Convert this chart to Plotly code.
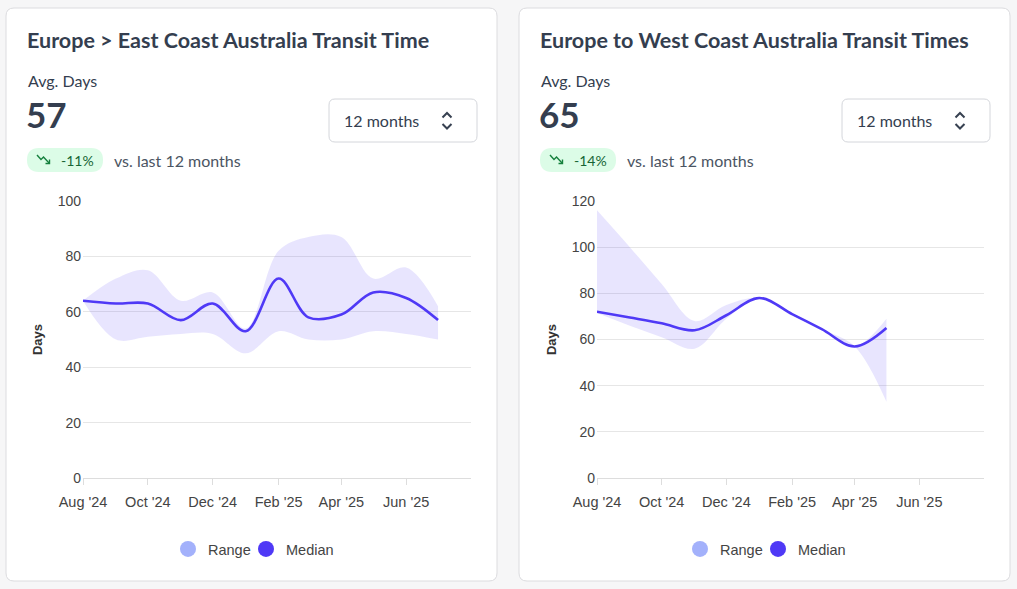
import plotly.graph_objects as go

W, H = 1017, 589

# ---------------- data ----------------
east_months = ["2024-08-01", "2024-09-01", "2024-10-01", "2024-11-01", "2024-12-01", "2025-01-01",
               "2025-02-01", "2025-03-01", "2025-04-01", "2025-05-01", "2025-06-01", "2025-07-01"]
east_median = [64, 63, 63, 57, 63, 53, 72, 58, 59, 67, 65, 57]
east_upper = [64, 72, 75, 64, 67, 54, 82, 87, 87, 72, 76, 62]
east_lower = [64, 50, 51, 52, 52, 45, 53, 50, 50, 53, 52, 50]

west_months = ["2024-08-01", "2024-09-01", "2024-10-01", "2024-11-01", "2024-12-01", "2025-01-01",
               "2025-02-01", "2025-03-01", "2025-04-01", "2025-05-01"]
west_median = [72, 69.5, 67, 64, 70.5, 78, 71, 64.5, 57, 65]
west_upper = [116, 100, 84, 68, 75, 78, 71, 64.5, 57, 69]
west_lower = [71.5, 66, 61, 56, 69, 78, 71, 64.5, 57, 33]

tick_dates = ["2024-08-01", "2024-10-01", "2024-12-01", "2025-02-01", "2025-04-01", "2025-06-01"]
tick_labels = ["Aug '24", "Oct '24", "Dec '24", "Feb '25", "Apr '25", "Jun '25"]

titles = ["Europe > East Coast Australia Transit Time", "Europe to West Coast Australia Transit Times"]
avg_days = ["57", "65"]
changes = ["-11%", "-14%"]
period_label = "12 months"
compare_label = "vs. last 12 months"

# ---------------- styles ----------------
MED = "#4f39f6"
RANGE_C = "#a3b1fb"
FILL = "rgba(79,57,246,0.13)"
TXT = "#343e4f"
SUB = "#4b5563"
UI_FONT = "Lato"
CH_FONT = "Liberation Sans, Arial, sans-serif"
SMOOTH = 1.0


def px(x):
    return x / W


def py(y):
    return 1 - y / H


def rrect(x0, y0, x1, y1, r):
    pts = [
        f"M{px(x0 + r)},{py(y0)}",
        f"L{px(x1 - r)},{py(y0)}",
        f"Q{px(x1)},{py(y0)} {px(x1)},{py(y0 + r)}",
        f"L{px(x1)},{py(y1 - r)}",
        f"Q{px(x1)},{py(y1)} {px(x1 - r)},{py(y1)}",
        f"L{px(x0 + r)},{py(y1)}",
        f"Q{px(x0)},{py(y1)} {px(x0)},{py(y1 - r)}",
        f"L{px(x0)},{py(y0 + r)}",
        f"Q{px(x0)},{py(y0)} {px(x0 + r)},{py(y0)}",
        "Z",
    ]
    return " ".join(pts)


def poly(points):
    return "M" + " L".join(f"{px(x)},{py(y)}" for x, y in points)


fig = go.Figure()
shapes = []
annotations = []

panels = [
    dict(months=east_months, med=east_median, up=east_upper, lo=east_lower, xa="x", ya="y",
         leg_range="legend", leg_med="legend3", dx=0),
    dict(months=west_months, med=west_median, up=west_upper, lo=west_lower, xa="x2", ya="y2",
         leg_range="legend2", leg_med="legend4", dx=513),
]

for i, p in enumerate(panels):
    lr, lm = p["leg_range"], p["leg_med"]
    fig.add_trace(go.Scatter(x=p["months"], y=p["lo"], mode="lines",
                             line=dict(width=0, shape="spline", smoothing=SMOOTH),
                             xaxis=p["xa"], yaxis=p["ya"], showlegend=False, hoverinfo="skip", legend=lr))
    fig.add_trace(go.Scatter(x=p["months"], y=p["up"], mode="lines",
                             line=dict(width=0, shape="spline", smoothing=SMOOTH),
                             fill="tonexty", fillcolor=FILL, legend=lr,
                             xaxis=p["xa"], yaxis=p["ya"], showlegend=False, hoverinfo="skip"))
    fig.add_trace(go.Scatter(x=p["months"], y=p["med"], mode="lines",
                             line=dict(color=MED, width=2.6, shape="spline", smoothing=SMOOTH),
                             xaxis=p["xa"], yaxis=p["ya"], showlegend=False, name="Median", legend=lm))
    fig.add_trace(go.Scatter(x=[None], y=[None], mode="markers", name="Range",
                             marker=dict(size=16, color=RANGE_C), legend=lr,
                             xaxis=p["xa"], yaxis=p["ya"]))
    fig.add_trace(go.Scatter(x=[None], y=[None], mode="markers", name="Median",
                             marker=dict(size=16, color=MED), legend=lm,
                             xaxis=p["xa"], yaxis=p["ya"]))

    dx = p["dx"]
    # card
    card_x0 = 6 + (519 - 6) * i
    card_x1 = 497 + (1010 - 497) * i
    shapes.append(dict(type="path", path=rrect(card_x0, 8, card_x1, 581, 8), xref="paper", yref="paper",
                       fillcolor="#ffffff", line=dict(color="#dcdcdf", width=1), layer="below"))
    # dropdown
    shapes.append(dict(type="path", path=rrect(329 + dx, 99, 477 + dx, 142, 6), xref="paper", yref="paper",
                       fillcolor="#ffffff", line=dict(color="#d4d6db", width=1), layer="below"))
    shapes.append(dict(type="path", path=poly([(442.5 + dx, 117.5), (447 + dx, 113), (451.5 + dx, 117.5)]),
                       xref="paper", yref="paper", fillcolor="rgba(0,0,0,0)",
                       line=dict(color="#374151", width=2)))
    shapes.append(dict(type="path", path=poly([(442.5 + dx, 124), (447 + dx, 128.5), (451.5 + dx, 124)]),
                       xref="paper", yref="paper", fillcolor="rgba(0,0,0,0)",
                       line=dict(color="#374151", width=2)))
    # badge
    shapes.append(dict(type="path", path=rrect(27 + dx, 148, 103 + dx, 172, 12), xref="paper", yref="paper",
                       fillcolor="#dcfce7", line=dict(width=0), layer="below"))
    shapes.append(dict(type="path", path=poly([(37 + dx, 155), (41 + dx, 159.5), (43.5 + dx, 157), (49.5 + dx, 163.5)]),
                       xref="paper", yref="paper", fillcolor="rgba(0,0,0,0)",
                       line=dict(color="#15803d", width=1.4)))
    shapes.append(dict(type="path", path=poly([(49.5 + dx, 159.5), (49.5 + dx, 163.5), (45.5 + dx, 163.5)]),
                       xref="paper", yref="paper", fillcolor="rgba(0,0,0,0)",
                       line=dict(color="#15803d", width=1.4)))

    annotations += [
        dict(text=f"<b>{titles[i]}</b>", x=px(25 + dx), y=py(40), xanchor="left", yanchor="middle",
             font=dict(family=UI_FONT, size=21.5, color=TXT)),
        dict(text="Avg. Days", x=px(26 + dx), y=py(81), xanchor="left", yanchor="middle",
             font=dict(family=UI_FONT, size=16, color=TXT)),
        dict(text=f"<b>{avg_days[i]}</b>", x=px(24 + dx), y=py(114), xanchor="left", yanchor="middle",
             font=dict(family=UI_FONT, size=35, color=TXT)),
        dict(text=changes[i], x=px(77 + dx), y=py(160), xanchor="center", yanchor="middle",
             font=dict(family=UI_FONT, size=14, color="#166534")),
        dict(text=compare_label, x=px(112 + dx), y=py(160), xanchor="left", yanchor="middle",
             font=dict(family=UI_FONT, size=16, color=SUB)),
        dict(text=period_label, x=px(342 + dx), y=py(120), xanchor="left", yanchor="middle",
             font=dict(family=UI_FONT, size=16, color=TXT)),
    ]

for a in annotations:
    a.update(xref="paper", yref="paper", showarrow=False)

xcommon = dict(range=["2024-08-01", "2025-08-01"], tickmode="array", tickvals=tick_dates, ticktext=tick_labels,
               showline=True, linecolor="#dddddd", linewidth=1, ticks="outside", ticklen=6, tickcolor="#dddddd",
               showgrid=False, zeroline=False, tickfont=dict(family=CH_FONT, size=14.5, color="#444444"),
               ticklabelstandoff=5, fixedrange=True, automargin=False)
ycommon = dict(dtick=20, showgrid=True, gridcolor="#e6e6e6", gridwidth=1, zeroline=False, showline=False,
               ticks="", tickfont=dict(family=CH_FONT, size=14, color="#444444"), fixedrange=True,
               automargin=False, ticklabelstandoff=1,
               title=dict(text="<b>Days</b>", font=dict(family=CH_FONT, size=13, color="#333333"), standoff=12))

ydom = [1 - 478 / H, 1 - 201 / H]
leg = dict(orientation="h", yanchor="middle", xanchor="left", traceorder="normal",
           font=dict(family=CH_FONT, size=14.5, color="#444444"), bgcolor="rgba(0,0,0,0)")
fig.update_layout(
    width=W, height=H, margin=dict(l=0, r=0, t=0, b=0, autoexpand=False),
    paper_bgcolor="#f6f6f7", plot_bgcolor="rgba(0,0,0,0)",
    xaxis=dict(domain=[83 / W, 471 / W], anchor="y", **xcommon),
    yaxis=dict(domain=ydom, anchor="x", range=[0, 100], **ycommon),
    xaxis2=dict(domain=[597 / W, 984 / W], anchor="y2", **xcommon),
    yaxis2=dict(domain=ydom, anchor="x2", range=[0, 120], **ycommon),
    legend=dict(x=168 / W, y=py(549), **leg),
    legend3=dict(x=246 / W, y=py(549), **leg),
    legend2=dict(x=680 / W, y=py(549), **leg),
    legend4=dict(x=758 / W, y=py(549), **leg),
    shapes=shapes, annotations=annotations, showlegend=True,
)

fig.write_html("out.html")
